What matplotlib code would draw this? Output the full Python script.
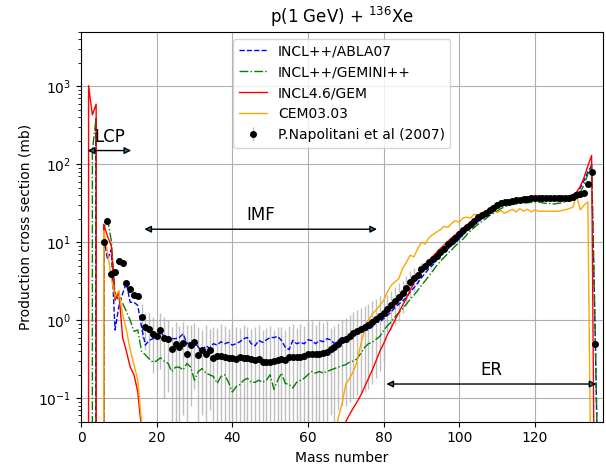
import numpy as np
import matplotlib
matplotlib.use("Agg")
import matplotlib.pyplot as plt

A_model = list(range(1, 138))

abla = [
    0, 0, 0, 400, 0, 12, 6, 8, 0.75, 1.5,
    2.2, 3.0, 1.7, 1.7, 1.55, 0.82, 0.48, 0.55, 0.58, 0.6,
    0.7, 0.62, 0.55, 0.58, 0.58, 0.6, 0.67, 0.5, 0.52, 0.55,
    0.45, 0.41, 0.47, 0.44, 0.5, 0.48, 0.53, 0.5, 0.52, 0.48,
    0.5, 0.53, 0.58, 0.6, 0.5, 0.47, 0.55, 0.52, 0.56, 0.6,
    0.6, 0.62, 0.55, 0.45, 0.42, 0.55, 0.5, 0.52, 0.5, 0.56,
    0.55, 0.5, 0.55, 0.53, 0.58, 0.56, 0.5, 0.55, 0.6, 0.58,
    0.65, 0.68, 0.66, 0.72, 0.74, 0.76, 0.82, 0.95, 0.95, 1.05,
    1.15, 1.28, 1.45, 1.6, 1.75, 1.95, 2.3, 2.6, 3.0, 3.5,
    4.0, 4.6, 5.1, 5.9, 6.7, 7.4, 8.2, 9.1, 10, 11,
    12.5, 14, 15.2, 17, 18.3, 20, 21.5, 23.5, 26, 28,
    30, 32, 33, 34, 35, 35.5, 36, 36.5, 37, 37,
    37.5, 37.5, 37, 37.5, 37, 37, 37.5, 38, 39, 41,
    43, 50, 62, 80, 95, 0.5, 0.001]

gemini = [
    0, 0, 150, 400, 0, 15, 20, 10.5, 2.2, 1.8,
    1.65, 1.3, 1.0, 0.72, 0.75, 0.4, 0.36, 0.32, 0.29, 0.3,
    0.33, 0.3, 0.28, 0.22, 0.25, 0.25, 0.23, 0.28, 0.25, 0.17,
    0.22, 0.24, 0.21, 0.2, 0.19, 0.155, 0.19, 0.2, 0.16, 0.12,
    0.14, 0.15, 0.17, 0.18, 0.16, 0.16, 0.17, 0.16, 0.17, 0.2,
    0.13, 0.17, 0.21, 0.155, 0.15, 0.135, 0.16, 0.17, 0.18, 0.2,
    0.22, 0.21, 0.22, 0.21, 0.22, 0.23, 0.24, 0.25, 0.26, 0.27,
    0.29, 0.3, 0.32, 0.38, 0.45, 0.5, 0.52, 0.57, 0.62, 0.74,
    0.85, 0.95, 1.1, 1.25, 1.4, 1.6, 1.85, 2.1, 2.4, 2.8,
    3.2, 3.7, 4.3, 5.0, 5.7, 6.4, 7.2, 8.0, 9.0, 10,
    11, 12.5, 14, 15.5, 17, 18.5, 20, 22, 23.5, 25,
    27, 28.5, 29.5, 30.5, 31, 31.5, 32, 32, 32.5, 33,
    33, 32, 31.5, 31.5, 31, 31.5, 32, 33, 34, 36,
    38, 44, 55, 75, 100, 0.5, 0.001]

incl46 = [
    0, 1020, 430, 590, 0, 17, 12, 9, 1.8, 2.3,
    0.6, 0.4, 0.25, 0.2, 0.12, 0.04, 0.01, 0.01, 0.01, 0.01,
    0.01, 0.01, 0.01, 0.01, 0.01, 0.01, 0.01, 0.01, 0.01, 0.01,
    0.01, 0.01, 0.01, 0.01, 0.01, 0.01, 0.01, 0.01, 0.01, 0.01,
    0.01, 0.01, 0.01, 0.01, 0.01, 0.01, 0.01, 0.01, 0.01, 0.01,
    0.01, 0.01, 0.01, 0.01, 0.01, 0.01, 0.01, 0.01, 0.01, 0.01,
    0.01, 0.01, 0.01, 0.01, 0.01, 0.01, 0.01, 0.01, 0.03, 0.05,
    0.062, 0.075, 0.09, 0.11, 0.14, 0.18, 0.23, 0.3, 0.4, 0.5,
    0.65, 0.8, 1.0, 1.25, 1.55, 1.9, 2.4, 3.0, 3.7, 4.4,
    5.1, 5.8, 6.6, 7.4, 8.3, 9.2, 10.3, 11.4, 12.5, 13.8,
    15.2, 16.7, 18.2, 20, 21.7, 23.3, 25, 26.7, 28.4, 30,
    31.3, 32.5, 33.5, 34.3, 35, 35.5, 36, 36.3, 36.6, 36.8,
    37, 37, 37.2, 37.3, 37.3, 37.5, 37.8, 38.3, 39, 40.5,
    44, 52, 68, 95, 130, 0.0001, 0]

cem = [
    0, 0, 0, 0, 0, 14, 7.5, 3.5, 2.0, 2.4,
    1.2, 0.75, 0.42, 0.27, 0.17, 0.05, 0.01, 0.01, 0.01, 0.01,
    0.01, 0.01, 0.01, 0.01, 0.01, 0.01, 0.01, 0.01, 0.01, 0.01,
    0.01, 0.01, 0.01, 0.01, 0.01, 0.01, 0.01, 0.01, 0.01, 0.01,
    0.01, 0.01, 0.01, 0.01, 0.01, 0.01, 0.01, 0.01, 0.01, 0.01,
    0.01, 0.01, 0.01, 0.01, 0.01, 0.01, 0.01, 0.01, 0.01, 0.01,
    0.01, 0.01, 0.01, 0.01, 0.01, 0.01, 0.03, 0.055, 0.085, 0.15,
    0.18, 0.22, 0.3, 0.5, 0.75, 1.0, 1.2, 1.35, 1.55, 1.8,
    2.3, 2.8, 3.1, 3.4, 4.6, 5.5, 6.8, 6.5, 8.2, 10,
    9.5, 11.5, 12.5, 13.5, 14.5, 16, 15.5, 17.5, 19, 18,
    20.5, 21, 20.5, 23, 22, 24, 25.5, 23.5, 26, 24,
    25.5, 23.5, 25, 26.5, 24.5, 27, 25, 26.5, 24.5, 26,
    25, 25, 25, 25, 25, 25, 25.5, 26, 27, 28,
    40, 26, 30, 33, 0.001, 0, 0]

A_exp = list(range(6, 137))
xs_exp = [
    10, 19, 3.9, 4.2, 5.7, 5.4, 3.0, 2.55, 2.1, 2.05,
    1.1, 0.82, 0.77, 0.66, 0.62, 0.74, 0.6, 0.57, 0.43, 0.5,
    0.45, 0.51, 0.37, 0.48, 0.53, 0.36, 0.41, 0.37, 0.42, 0.33,
    0.35, 0.35, 0.34, 0.33, 0.33, 0.32, 0.34, 0.33, 0.33, 0.32,
    0.31, 0.32, 0.29, 0.29, 0.29, 0.30, 0.31, 0.32, 0.31, 0.34,
    0.34, 0.34, 0.34, 0.35, 0.37, 0.37, 0.37, 0.37, 0.38, 0.39,
    0.43, 0.45, 0.5, 0.55, 0.58, 0.62, 0.68, 0.73, 0.78, 0.82,
    0.88, 0.95, 1.03, 1.12, 1.24, 1.4, 1.56, 1.77, 1.99, 2.22,
    2.6, 3.1, 3.5, 3.85, 4.6, 5.0, 5.6, 6.1, 6.6, 7.6,
    8.3, 9.5, 10.5, 11.5, 12.8, 14.3, 15.8, 17.2, 19, 20.8,
    22.4, 24, 25.6, 27.5, 30, 31.5, 32.5, 33, 34, 34.5,
    35, 35.5, 36, 36.5, 37, 37, 37.5, 37.5, 37.5, 37,
    37.5, 37.5, 37, 37.5, 38.5, 40, 42, 43, 56, 79,
    0.5]
err_exp = [
    1.0, 1.9, 0.4, 0.4, 0.6, 0.5, 0.3, 0.25, 0.2, 0.2,
    0.5, 0.4, 0.45, 0.45, 0.4, 0.5, 0.5, 0.45, 0.4, 0.45,
    0.4, 0.45, 0.5, 0.4, 0.4, 0.45, 0.35, 0.5, 0.35, 0.5,
    0.45, 0.55, 0.5, 0.45, 0.55, 0.5, 0.45, 0.55, 0.5, 0.45,
    0.5, 0.55, 0.45, 0.5, 0.55, 0.45, 0.5, 0.5, 0.45, 0.5,
    0.55, 0.45, 0.55, 0.5, 0.55, 0.6, 0.5, 0.6, 0.55, 0.6,
    0.37, 0.4, 0.43, 0.47, 0.5, 0.53, 0.58, 0.62, 0.66, 0.7,
    0.75, 0.8, 0.85, 0.9, 0.95, 0.7, 0.8, 0.9, 1.0, 1.0,
    1.1, 1.2, 1.2, 1.0, 0.9, 0.8, 0.6, 0.5, 0.5, 0.5,
    0.35, 0.4, 0.4, 0.45, 0.5, 0.55, 0.6, 0.7, 0.75, 0.8,
    0.9, 0.95, 1.0, 1.1, 1.2, 1.25, 1.3, 1.3, 1.35, 1.4,
    1.4, 1.4, 1.45, 1.45, 1.5, 1.5, 1.5, 1.5, 1.5, 1.5,
    1.5, 1.5, 1.5, 1.5, 1.5, 1.6, 1.7, 1.7, 2.2, 3.2,
    0.05]

regions = ["LCP", "IMF", "ER"]
region_start = [1, 16, 80]
region_end = [14, 79, 137]
region_y = [150, 14.7, 0.152]
label_y = [170, 17.0, 0.178]

fig = plt.figure(figsize=(6.06, 4.68), dpi=100)
ax = fig.add_axes([0.1337, 0.099, 0.995 - 0.1337, 0.932 - 0.099])

ax.plot(A_model, abla, linestyle='--', color='blue', lw=1.0, label='INCL++/ABLA07')
ax.plot(A_model, gemini, linestyle='-.', color='green', lw=1.0, label='INCL++/GEMINI++')
ax.plot(A_model, incl46, linestyle='-', color='red', lw=1.0, label='INCL4.6/GEM')
ax.plot(A_model, cem, linestyle='-', color='orange', lw=1.0, label='CEM03.03')
eb = ax.errorbar(A_exp, xs_exp, yerr=err_exp, fmt='o', color='black', markersize=4,
                 ecolor='0.75', elinewidth=1.0, zorder=3, label='P.Napolitani et al (2007)')
eb[2][0].set_zorder(1)

ax.set_yscale('log')
ax.set_xlim(0, 138)
ax.set_ylim(0.05, 5000)
ax.set_xticks([0, 20, 40, 60, 80, 100, 120])
ax.grid(True, which='major')
ax.set_xlabel('Mass number')
ax.set_ylabel('Production cross section (mb)')
ax.set_title(r'p(1 GeV) + $^{136}$Xe')

for name, a0, a1, yv, ly in zip(regions, region_start, region_end, region_y, label_y):
    ax.annotate('', xy=(a0, yv), xytext=(a1, yv),
                arrowprops=dict(arrowstyle='<|-|>', color='black', lw=1.0, fc='#1f77b4'))
    ax.text((a0 + a1) / 2, ly, name, ha='center', va='bottom', fontsize=12)

ax.legend(loc='upper center', fontsize=10)
fig.savefig('out.png', dpi=100)
